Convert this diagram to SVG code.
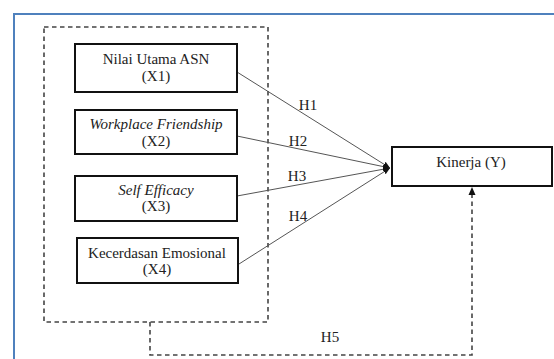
<svg xmlns="http://www.w3.org/2000/svg" width="554" height="359" viewBox="0 0 554 359">
<style>
.box{fill:#fff;stroke:#111;stroke-width:2}
.t{font-family:'Liberation Serif','Times New Roman','DejaVu Serif',serif;font-size:15px;fill:#222;text-anchor:middle}
.i{font-style:italic}
.ln{stroke:#555;stroke-width:1;fill:none}
.dash{stroke:#444;stroke-width:1.6;fill:none;stroke-dasharray:4.5,3.5}
</style>
<defs>
<marker id="ah" markerWidth="8" markerHeight="8" refX="7" refY="4" orient="auto" markerUnits="userSpaceOnUse">
<path d="M0,1 L7,4 L0,7 Z" fill="#111"/>
</marker>
</defs>
<rect width="554" height="359" fill="#fff"/>
<rect x="14" y="14" width="600" height="400" fill="none" stroke="#4f81bd" stroke-width="2"/>
<g id="group-dashed">
<rect x="44" y="27" width="224" height="295" class="dash"/>
</g>
<g id="connectors">
<line class="ln" x1="237" y1="72" x2="390" y2="168" marker-end="url(#ah)"/>
<line class="ln" x1="237" y1="136" x2="390" y2="168" marker-end="url(#ah)"/>
<line class="ln" x1="237" y1="196" x2="390" y2="168" marker-end="url(#ah)"/>
<line class="ln" x1="239" y1="264" x2="390" y2="168" marker-end="url(#ah)"/>
<path class="dash" d="M150,322 V355 H472 V194"/>
<path d="M468.5,195 L472,187 L475.5,195 Z" fill="#111"/>
<text class="t" x="308" y="110">H1</text>
<text class="t" x="298" y="146">H2</text>
<text class="t" x="297" y="181">H3</text>
<text class="t" x="298" y="221">H4</text>
<text class="t" x="330" y="342">H5</text>
</g>
<g id="x1">
<rect class="box" x="75" y="44" width="162" height="48"/>
<text class="t" x="156" y="64">Nilai Utama ASN</text>
<text class="t" x="156" y="81">(X1)</text>
</g>
<g id="x2">
<rect class="box" x="75" y="110" width="162" height="44"/>
<text class="t i" x="156" y="129">Workplace Friendship</text>
<text class="t" x="156" y="146">(X2)</text>
</g>
<g id="x3">
<rect class="box" x="75" y="176" width="162" height="45"/>
<text class="t i" x="156" y="195">Self Efficacy</text>
<text class="t" x="156" y="211">(X3)</text>
</g>
<g id="x4">
<rect class="box" x="77" y="238" width="161" height="45"/>
<text class="t" x="157" y="258">Kecerdasan Emosional</text>
<text class="t" x="157" y="274">(X4)</text>
</g>
<g id="y">
<rect class="box" x="392" y="147" width="160" height="39"/>
<text class="t" x="471" y="167">Kinerja (Y)</text>
</g>
</svg>
